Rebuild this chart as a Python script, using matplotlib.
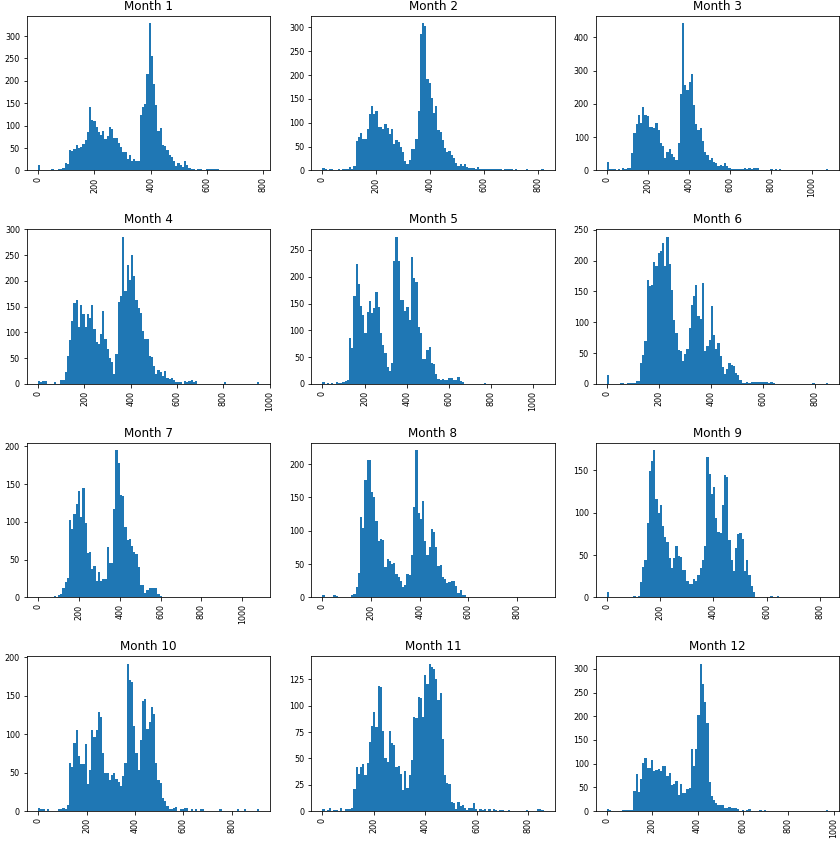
import numpy as np
import matplotlib
matplotlib.use("Agg")
import matplotlib.pyplot as plt

# upper end of each month's values (all start at 0), 100 bins each
month_max = [785, 820, 1080, 955, 1050, 850, 1083, 910, 830, 913, 860, 975]

m1 = [13, 2, 2, 0, 0, 2, 3, 2, 0, 3, 4, 5, 17, 15, 46, 43, 47, 56, 51, 52,
      58, 69, 85, 141, 112, 110, 97, 85, 79, 89, 70, 76, 96, 92, 72, 72, 62, 52, 41, 41,
      25, 34, 21, 25, 22, 22, 123, 141, 148, 216, 329, 255, 193, 146, 87, 94, 56, 55, 46, 34,
      30, 22, 10, 16, 12, 7, 21, 13, 6, 4, 3, 0, 3, 3, 0, 0, 3, 4, 4, 3,
      3, 4, 2, 0, 2, 0, 2, 0, 0, 0, 2, 2, 2, 2, 2, 2, 0, 2, 2, 1]
m2 = [6, 3, 0, 3, 3, 0, 0, 4, 0, 3, 3, 4, 8, 4, 10, 61, 71, 79, 65, 67,
      86, 119, 136, 119, 125, 92, 92, 86, 98, 90, 77, 86, 55, 63, 60, 50, 39, 20, 13, 21,
      44, 44, 65, 124, 286, 309, 303, 191, 183, 152, 120, 136, 85, 80, 64, 48, 39, 40, 33, 26,
      15, 9, 14, 9, 13, 7, 5, 5, 6, 4, 7, 4, 4, 4, 3, 4, 3, 3, 3, 4,
      3, 2, 3, 3, 3, 3, 0, 3, 0, 2, 0, 0, 3, 0, 0, 0, 2, 0, 0, 3]
m3 = [25, 4, 4, 4, 0, 4, 0, 7, 4, 7, 7, 52, 113, 140, 167, 143, 191, 167, 163, 131,
      131, 128, 142, 123, 82, 75, 38, 55, 65, 50, 40, 32, 83, 230, 443, 258, 243, 265, 290, 197,
      140, 122, 128, 90, 55, 48, 32, 38, 25, 22, 14, 15, 14, 22, 13, 7, 5, 4, 4, 4,
      4, 4, 7, 4, 7, 4, 7, 7, 7, 0, 0, 0, 0, 0, 4, 0, 3, 0, 4, 0,
      0, 0, 0, 0, 0, 0, 0, 0, 0, 0, 0, 0, 0, 0, 0, 0, 0, 0, 0, 4]
m4 = [6, 3, 6, 6, 0, 0, 0, 3, 0, 0, 8, 7, 23, 55, 86, 123, 158, 162, 111, 154,
      135, 111, 135, 128, 153, 107, 82, 78, 97, 142, 87, 68, 50, 43, 20, 58, 160, 170, 286, 181,
      230, 202, 251, 210, 163, 147, 137, 102, 87, 88, 55, 52, 34, 20, 27, 24, 16, 26, 12, 10,
      11, 7, 4, 3, 3, 0, 6, 3, 6, 8, 3, 6, 0, 0, 0, 0, 0, 0, 0, 0,
      0, 0, 0, 0, 3, 0, 0, 0, 0, 0, 0, 0, 0, 0, 0, 0, 0, 0, 0, 3]
m5 = [4, 0, 2, 0, 2, 0, 4, 2, 2, 4, 6, 8, 85, 68, 165, 223, 186, 145, 128, 96,
      135, 154, 132, 142, 172, 143, 95, 72, 58, 32, 25, 39, 230, 275, 230, 156, 156, 137, 143, 120,
      237, 198, 191, 107, 95, 47, 47, 64, 69, 40, 38, 18, 10, 8, 9, 8, 8, 11, 11, 8,
      8, 13, 6, 4, 0, 0, 0, 0, 0, 0, 0, 0, 0, 2, 0, 0, 0, 0, 0, 0,
      0, 0, 0, 0, 0, 0, 0, 0, 0, 0, 0, 0, 0, 0, 0, 0, 0, 0, 0, 0]
m6 = [15, 0, 0, 0, 0, 0, 2, 2, 0, 2, 2, 2, 2, 5, 5, 34, 47, 70, 169, 159,
      161, 198, 191, 212, 215, 229, 191, 239, 194, 153, 103, 82, 55, 54, 38, 49, 57, 91, 128, 143,
      160, 111, 106, 164, 53, 62, 72, 127, 80, 57, 67, 45, 28, 17, 24, 34, 31, 29, 18, 15,
      7, 2, 2, 4, 2, 4, 4, 4, 4, 4, 4, 4, 4, 2, 4, 2, 0, 0, 0, 0,
      0, 0, 0, 0, 0, 0, 0, 0, 0, 0, 0, 0, 0, 2, 0, 0, 0, 0, 0, 2]
m7 = [0, 0, 0, 0, 0, 0, 0, 2, 0, 3, 5, 12, 20, 26, 102, 90, 110, 124, 141, 107,
      145, 99, 59, 60, 38, 41, 22, 34, 22, 25, 25, 67, 46, 45, 117, 195, 178, 135, 134, 93,
      76, 78, 68, 60, 58, 40, 16, 17, 6, 10, 13, 13, 13, 13, 4, 2, 0, 0, 0, 0,
      0, 0, 0, 0, 0, 0, 0, 0, 0, 0, 0, 0, 0, 0, 0, 0, 0, 0, 0, 0,
      0, 0, 0, 0, 0, 0, 0, 0, 0, 0, 0, 0, 0, 0, 0, 0, 0, 0, 0, 0]
m8 = [3, 0, 0, 0, 0, 3, 2, 0, 0, 0, 0, 0, 0, 3, 5, 16, 37, 120, 104, 176,
      206, 206, 158, 150, 114, 85, 88, 86, 46, 58, 55, 50, 52, 35, 30, 25, 16, 19, 35, 34,
      64, 135, 221, 126, 118, 144, 85, 63, 76, 102, 98, 76, 47, 48, 31, 27, 22, 23, 25, 25,
      17, 7, 11, 4, 4, 0, 0, 0, 0, 0, 0, 0, 0, 0, 0, 0, 0, 0, 0, 0,
      0, 0, 0, 0, 0, 0, 0, 0, 0, 0, 0, 0, 0, 0, 0, 0, 0, 0, 0, 0]
m9 = [6, 0, 0, 0, 0, 0, 0, 0, 0, 0, 0, 0, 2, 0, 2, 18, 36, 44, 88, 149,
      161, 174, 116, 100, 109, 84, 71, 66, 47, 35, 47, 61, 49, 48, 33, 32, 20, 16, 16, 22,
      20, 27, 35, 44, 61, 166, 146, 122, 131, 94, 77, 76, 109, 145, 142, 68, 44, 31, 59, 75,
      76, 69, 31, 44, 27, 14, 6, 0, 0, 0, 0, 0, 0, 0, 2, 0, 1, 2, 0, 0,
      0, 0, 0, 0, 0, 0, 0, 0, 0, 0, 0, 0, 0, 0, 0, 0, 0, 0, 0, 0]
m10 = [4, 3, 3, 0, 2, 0, 0, 0, 0, 2, 3, 4, 3, 8, 63, 57, 88, 105, 72, 61,
       61, 87, 35, 54, 105, 97, 105, 129, 123, 75, 50, 50, 41, 47, 50, 42, 38, 33, 46, 63,
       192, 170, 168, 111, 75, 54, 93, 143, 146, 107, 116, 135, 126, 62, 40, 36, 17, 13, 6, 3,
       2, 4, 5, 0, 2, 2, 4, 4, 0, 2, 0, 3, 0, 3, 2, 0, 0, 0, 0, 0,
       0, 0, 2, 0, 0, 0, 0, 0, 0, 0, 2, 0, 0, 2, 0, 0, 0, 0, 0, 2]
m11 = [2, 0, 1, 3, 0, 1, 1, 0, 3, 0, 2, 2, 2, 3, 21, 42, 35, 42, 45, 34,
       46, 66, 81, 94, 80, 119, 118, 76, 50, 47, 76, 65, 63, 42, 43, 35, 20, 38, 22, 34,
       48, 89, 88, 108, 107, 89, 129, 121, 140, 137, 135, 125, 105, 112, 68, 34, 27, 26, 9, 8,
       2, 9, 5, 6, 3, 1, 3, 3, 8, 2, 0, 2, 1, 2, 0, 2, 0, 2, 1, 0,
       1, 1, 0, 0, 1, 0, 0, 0, 0, 0, 0, 0, 1, 0, 0, 0, 0, 2, 2, 1]
m12 = [4, 2, 0, 0, 0, 0, 0, 2, 2, 2, 2, 2, 42, 78, 40, 67, 101, 111, 91, 91,
       107, 85, 87, 88, 85, 95, 95, 74, 81, 55, 57, 63, 34, 57, 38, 37, 46, 48, 131, 95,
       131, 202, 311, 268, 230, 186, 62, 32, 24, 17, 13, 13, 13, 7, 7, 8, 7, 6, 6, 4,
       0, 2, 0, 2, 4, 0, 0, 0, 0, 2, 0, 2, 0, 0, 0, 0, 0, 0, 0, 0,
       0, 0, 0, 0, 0, 0, 0, 0, 0, 0, 0, 0, 0, 0, 0, 0, 0, 0, 0, 2]

counts = [m1, m2, m3, m4, m5, m6, m7, m8, m9, m10, m11, m12]

# the reference is a 72 dpi render
fig, axes = plt.subplots(4, 3, figsize=(840 / 72, 845 / 72), dpi=72)
fig.subplots_adjust(left=27 / 840, right=839 / 840, bottom=1 - 811 / 845,
                    top=1 - 15.7 / 845, wspace=41 / 243, hspace=59 / 155.5)

for k, ax in enumerate(axes.flat):
    c = np.array(counts[k], dtype=float)
    edges = np.linspace(0, month_max[k], len(c) + 1)
    ax.hist(edges[:-1], bins=edges, weights=c, color="#1f77b4")
    ax.set_title("Month " + str(k + 1), fontsize=12)

# tick density follows the default 10pt size, labels are then shrunk to 8pt
fig.canvas.draw()
for ax in axes.flat:
    plt.setp(ax.get_xticklabels(), fontsize=8, rotation=90)
    plt.setp(ax.get_yticklabels(), fontsize=8)

fig.savefig("out.png", dpi=72)
